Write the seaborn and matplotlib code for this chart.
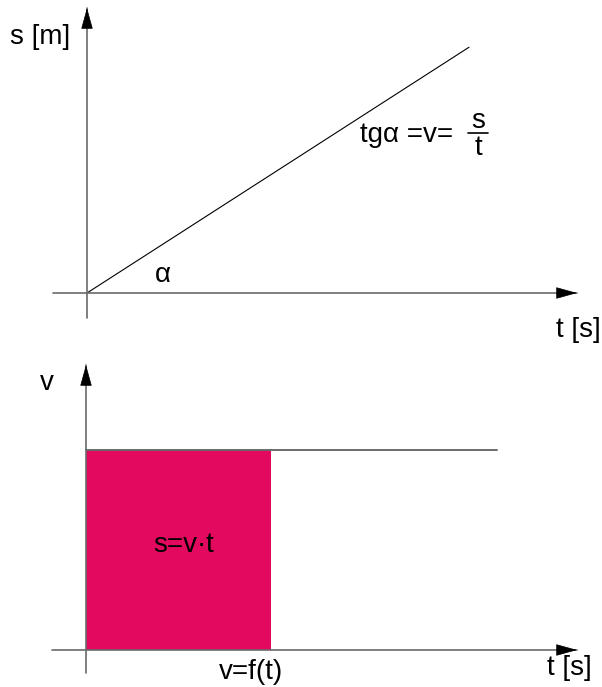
import matplotlib
matplotlib.use('Agg')
import matplotlib.pyplot as plt
import seaborn as sns

# top panel: s grows linearly with t (arbitrary units)
t_top = [0, 10]
s_top = [0, 6.4]

# bottom panel: constant velocity, shaded area up to t = 4.5
t_bot = [0, 10]
v_bot = [5, 5]
t_fill = [0, 4.5]
v_fill = [5, 5]

W, H = 602, 687
FILL = '#E2095E'
AXIS_GRAY = '#6a6a6a'
FS = 20

sns.set_style('white')
plt.rcParams['font.family'] = ['Liberation Sans', 'DejaVu Sans']
plt.rcParams['text.color'] = 'black'

fig = plt.figure(figsize=(W / 100, H / 100), dpi=100)


def panel(origin, scale):
    # full-figure axes whose data origin sits at a given pixel (y from top)
    ox, oy = origin
    kx, ky = scale
    ax = fig.add_axes([0, 0, 1, 1])
    ax.set_xlim(-ox / kx, (W - ox) / kx)
    ax.set_ylim(-(H - oy) / ky, oy / ky)
    ax.axis('off')
    ax.patch.set_alpha(0)
    return ax


def seg(ax, start, end, color, lw):
    ax.annotate('', xy=(end[0], H - end[1]), xycoords='figure pixels',
                xytext=(start[0], H - start[1]), textcoords='figure pixels',
                arrowprops=dict(arrowstyle='-', color=color, lw=lw,
                                shrinkA=0, shrinkB=0))


def axis_arrow(ax, start, tip, head=19):
    seg(ax, start, tip, AXIS_GRAY, 1.2)
    # black head on top of the gray shaft
    s = (start[0], H - start[1])
    e = (tip[0], H - tip[1])
    dx, dy = e[0] - s[0], e[1] - s[1]
    n = (dx ** 2 + dy ** 2) ** 0.5
    hs = (e[0] - dx / n * head, e[1] - dy / n * head)
    ax.annotate('', xy=e, xycoords='figure pixels', xytext=hs, textcoords='figure pixels',
                arrowprops=dict(arrowstyle='-|>,head_length=13.7,head_width=3.8',
                                mutation_scale=1, color='black', lw=0.5,
                                shrinkA=0, shrinkB=0))


def label(ax, x, y, txt, **kw):
    ax.annotate(txt, xy=(x, H - y), xycoords='figure pixels', fontsize=FS,
                color='black', ha=kw.pop('ha', 'center'), va=kw.pop('va', 'center'), **kw)


# ---- top: s(t) ----
ax1 = panel((87, 293), (38.2, 38.4))
axis_arrow(ax1, (87, 318), (87, 8))
axis_arrow(ax1, (53, 293), (577, 293))
sns.lineplot(x=t_top, y=s_top, ax=ax1, color='black', lw=0.8)
label(ax1, 40, 37, 's [m]')
label(ax1, 578, 330, 't [s]')
label(ax1, 163, 275, 'α')
label(ax1, 360, 135, 'tgα =v=', ha='left')
label(ax1, 478, 121, 's')
label(ax1, 478, 148, 't')
seg(ax1, (468, 133), (488, 133), 'black', 1.2)

# ---- bottom: v(t) ----
ax2 = panel((86, 650), (41.1, 40.0))
ax2.fill_between(t_fill, 0, v_fill, color=FILL, lw=0, zorder=1)
axis_arrow(ax2, (86, 673), (86, 365))
axis_arrow(ax2, (52, 650), (577, 650))
sns.lineplot(x=t_bot, y=v_bot, ax=ax2, color=AXIS_GRAY, lw=1.4)
label(ax2, 47, 383, 'v')
label(ax2, 569, 668, 't [s]')
label(ax2, 251, 672, 'v=f(t)')
label(ax2, 184, 545, 's=v·t')

fig.savefig('out.png', dpi=100)
